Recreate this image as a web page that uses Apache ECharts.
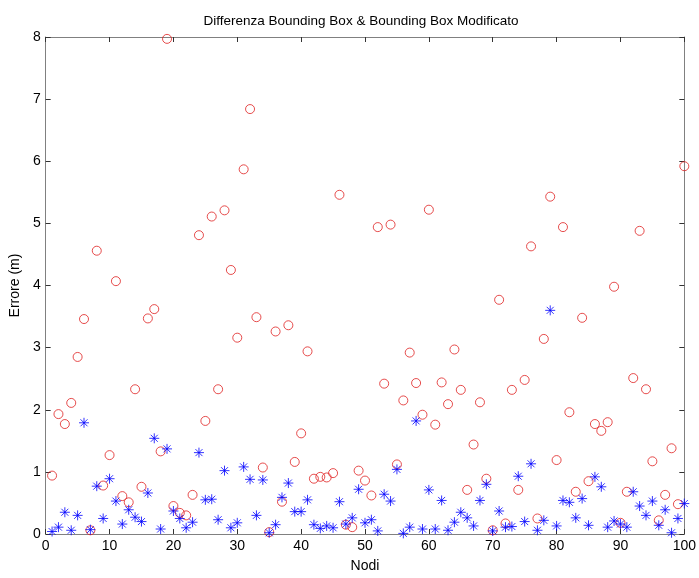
<!DOCTYPE html>
<html>
<head>
<meta charset="utf-8">
<script src="https://cdn.jsdelivr.net/npm/echarts@6/dist/echarts.min.js"></script>
<style>html,body{margin:0;padding:0;background:#fff}#c{width:699px;height:578px}</style>
</head>
<body>
<div id="c"></div>
<script>
var nodes = [];
for (var k = 1; k <= 100; k++) nodes.push(k);

var boundingBox = [0.94,1.93,1.77,2.11,2.85,3.46,0.06,4.56,0.78,1.27,
  4.07,0.61,0.51,2.33,0.76,3.47,3.62,1.33,7.97,0.45,
  0.34,0.30,0.63,4.81,1.82,5.11,2.33,5.21,4.25,3.16,
  5.87,6.84,3.49,1.07,0.03,3.26,0.52,3.36,1.16,1.62,
  2.94,0.89,0.92,0.91,0.98,5.46,0.15,0.11,1.02,0.86,
  0.62,4.94,2.42,4.98,1.12,2.15,2.92,2.43,1.92,5.22,
  1.76,2.44,2.09,2.97,2.32,0.71,1.44,2.12,0.89,0.06,
  3.77,0.17,2.32,0.71,2.48,4.63,0.25,3.14,5.43,1.19,
  4.94,1.96,0.68,3.48,0.85,1.77,1.66,1.80,3.98,0.18,
  0.68,2.51,4.88,2.33,1.17,0.22,0.63,1.38,0.48,5.92];

var boundingBoxModificato = [0.04,0.11,0.35,0.06,0.30,1.79,0.07,0.77,0.25,0.89,
  0.53,0.16,0.39,0.27,0.20,0.66,1.54,0.08,1.37,0.37,
  0.25,0.10,0.19,1.31,0.55,0.56,0.23,1.02,0.10,0.18,
  1.08,0.88,0.30,0.87,0.02,0.15,0.59,0.82,0.36,0.36,
  0.55,0.15,0.09,0.13,0.10,0.52,0.16,0.26,0.72,0.18,
  0.23,0.05,0.64,0.53,1.04,0.01,0.11,1.82,0.08,0.71,
  0.08,0.54,0.06,0.19,0.35,0.26,0.13,0.54,0.80,0.05,
  0.37,0.11,0.12,0.93,0.20,1.13,0.06,0.22,3.60,0.13,
  0.54,0.51,0.26,0.57,0.14,0.92,0.76,0.11,0.21,0.16,
  0.11,0.68,0.45,0.30,0.53,0.14,0.39,0.02,0.25,0.49];

var xTicks = [0,10,20,30,40,50,60,70,80,90,100];
var yTicks = [0,1,2,3,4,5,6,7,8];

function pairs(xs, ys) { return xs.map(function (x, i) { return [x, ys[i]]; }); }

var frameColor = '#808080';
var font = 'Liberation Sans, Arial, sans-serif';

function axisBase(show) {
  return {
    axisLine: { show: true, onZero: false, lineStyle: { color: frameColor, width: 1 } },
    axisTick: { show: true, inside: true, length: 5, lineStyle: { color: '#333' } },
    axisLabel: { show: show, color: '#000', fontFamily: font, fontSize: 14 },
    splitLine: { show: false }
  };
}

var chart = echarts.init(document.getElementById('c'), null, { renderer: 'canvas' });
chart.setOption({
  animation: false,
  backgroundColor: '#fff',
  title: {
    text: 'Differenza Bounding Box & Bounding Box Modificato',
    left: 356, top: 9, textAlign: 'center',
    textStyle: { fontFamily: font, fontSize: 13.5, fontWeight: 'normal', color: '#000' }
  },
  grid: { left: 44, right: 14, top: 37, bottom: 40 },
  xAxis: [
    Object.assign(axisBase(true), {
      type: 'value', min: 0, max: 100, interval: 10, position: 'bottom',
      name: 'Nodi', nameLocation: 'middle', nameGap: 25,
      nameTextStyle: { fontFamily: font, fontSize: 14, color: '#000' },
      axisLabel: { show: true, color: '#000', fontFamily: font, fontSize: 14, margin: 5 }
    }),
    Object.assign(axisBase(false), { type: 'value', min: 0, max: 100, interval: 10, position: 'top' })
  ],
  yAxis: [
    Object.assign(axisBase(true), {
      type: 'value', min: 0, max: 8, interval: 1, position: 'left',
      name: 'Errore (m)', nameLocation: 'middle', nameGap: 19, nameRotate: 90,
      nameTextStyle: { fontFamily: font, fontSize: 14, color: '#000' },
      axisLabel: { show: true, color: '#000', fontFamily: font, fontSize: 14, margin: 5 }
    }),
    Object.assign(axisBase(false), { type: 'value', min: 0, max: 8, interval: 1, position: 'right' })
  ],
  series: [
    {
      type: 'scatter', xAxisIndex: 0, yAxisIndex: 0,
      data: pairs(nodes, boundingBox),
      symbol: 'circle', symbolSize: 9,
      itemStyle: { color: 'rgba(0,0,0,0)', borderColor: '#e02020', borderWidth: 1 }
    },
    {
      type: 'scatter', xAxisIndex: 0, yAxisIndex: 0,
      data: pairs(nodes, boundingBoxModificato),
      symbol: 'path://M5,0L5,10M0,5L10,5M1.5,1.5L8.5,8.5M1.5,8.5L8.5,1.5',
      symbolSize: 10,
      itemStyle: { color: 'rgba(0,0,0,0)', borderColor: '#0000ff', borderWidth: 1 }
    }
  ]
});
</script>
</body>
</html>
